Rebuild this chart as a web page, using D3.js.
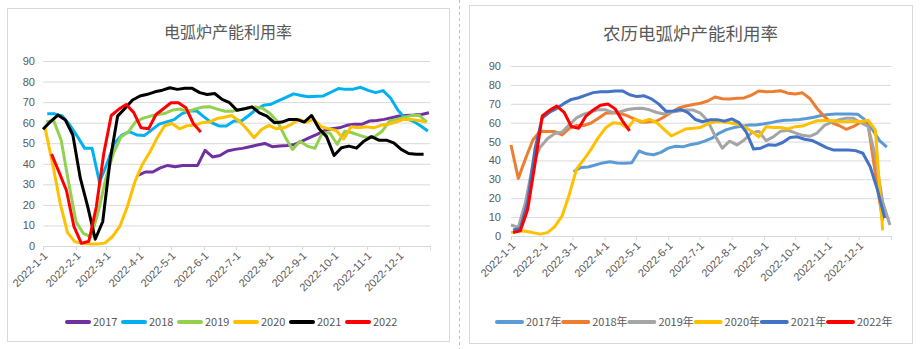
<!DOCTYPE html>
<html>
<head>
<meta charset="utf-8">
<script src="https://cdn.jsdelivr.net/npm/d3@7"></script>
<style>
  body { margin: 0; background: #fff; }
  svg { display: block; font-family: "Noto Sans CJK SC", "Noto Sans", sans-serif; }
</style>
</head>
<body>
<svg id="chart" width="921" height="349"></svg>
<script>
// month tick labels shared by both charts
const monthTicks = ["2022-1-1", "2022-2-1", "2022-3-1", "2022-4-1", "2022-5-1", "2022-6-1",
  "2022-7-1", "2022-8-1", "2022-9-1", "2022-10-1", "2022-11-1", "2022-12-1"];
const yTicks = [0, 10, 20, 30, 40, 50, 60, 70, 80, 90];

// calendar-aligned weekly utilisation, %
const arcYears = ["2017", "2018", "2019", "2020", "2021", "2022"];
const arcStartDay = [89, 4, 3, 2, 0, 8]; // day of year of the first weekly reading
const arc2017 = [34.4, 36, 36, 38, 39.2, 38.6, 39.2, 39.2, 39.2, 46.5, 43.3, 44, 46.2, 47, 47.5, 48.3, 49.1, 49.9, 48.3, 48.6,
  48.9, 49.4, 51, 52.7, 54.3, 56.2, 57, 57.5, 58.7, 59.2, 59.2, 60.8, 61.1, 61.6, 62.4, 63.2, 63.5, 63.7, 64, 64.8];
const arc2018 = [64.3, 64.3, 63.3, 59, 53.5, 47.6, 47.6, 31, 40, 50, 54, 55.6, 54, 53.7, 56.5, 59.3, 60.4, 61.5, 64.3, 65.7,
  65.8, 62.8, 60, 58.4, 58.4, 60.8, 60.8, 63.5, 66.5, 68.5, 69, 70.7, 72.3, 74, 73.2, 72.6, 72.9, 73, 74.8, 76.6,
  76.2, 76.3, 77.2, 75.7, 74.6, 75.6, 72, 66, 62, 60.8, 58.5, 55.9];
const arc2019 = [60.5, 61, 51.6, 31, 11.8, 6, 4.5, 17, 33, 45, 53, 55.5, 60.5, 62.2, 63.2, 63.9, 64.6, 66.2, 66.6, 65.3,
  66.7, 67.6, 67.7, 66.5, 65.5, 65.6, 66.4, 67, 67.6, 67, 64.5, 60.5, 53.2, 47, 51, 48.6, 47.5, 55, 55, 49.5,
  55.8, 55.1, 53.8, 52.7, 53.2, 55.8, 60.8, 61.6, 62.7, 63.5, 63.5, 60.3];
const arc2020 = [57.2, 40, 21, 6.5, 2, 1.3, 1, 1, 1.4, 4.5, 9.5, 19, 31, 39.5, 45.5, 52.5, 58.5, 59.6, 57, 58.5,
  58.7, 60, 60.3, 62, 62.6, 63.5, 60.8, 57, 52.7, 56.7, 58.7, 57, 57.5, 59.2, 61.6, 60.3, 61.6, 58, 57, 56.2,
  52.1, 58, 57.5, 58, 57.5, 58.7, 59.2, 60.3, 61.6, 61.6, 61.1, 60.3];
const arc2021 = [56.8, 60.5, 63.7, 61.3, 54, 33, 19, 3.3, 11.8, 41.8, 63.2, 67, 71, 73, 73.8, 75, 75.8, 77, 76.2, 76.7,
  76.7, 74.6, 73.7, 74.2, 71.3, 69.7, 66, 66.8, 67.7, 64.8, 63.2, 60, 60.3, 61.6, 61.6, 60.3, 63.5, 57, 53.2, 44,
  47.8, 48.6, 47.6, 51, 53.2, 51.5, 51.5, 50.2, 47, 45, 44.6, 44.6];
const arc2022 = [44.7, 36, 27, 9.5, 1.3, 2.3, 19, 45, 63.5, 66.5, 68.8, 65, 57.5, 57, 64, 66.8, 69.7, 69.7, 67.3, 59.6, 55.4];

// lunar-calendar-aligned weekly utilisation, %
const lunarYears = ["2017年", "2018年", "2019年", "2020年", "2021年", "2022年"];
const lunarStartDay = [60, 0, 0, 0, 2, 2];
const lunar2017 = [34, 36.3, 36.5, 37.6, 38.7, 39.3, 38.6, 38.5, 38.8, 45, 43.5, 43, 44.3, 46.5, 47.5, 47.2, 48.3, 49, 50.2, 51.8,
  54.5, 56.3, 57.4, 58.1, 58.7, 58.8, 59.3, 59.9, 60.8, 61.3, 61.4, 61.7, 62.2, 62.9, 63.8, 64.3, 64.6, 64.6, 64.6, 64.5,
  61.5, 56.5, 50.5, 47];
const lunar2018 = [48.2, 30.5, 41, 50.8, 55.5, 55.3, 55.3, 53.5, 57, 58.5, 58.5, 59.8, 62.3, 65, 65.3, 65, 63.6, 61.8, 60.2, 60.5,
  60.9, 63, 65.5, 67.8, 68.8, 69.6, 70.3, 71.5, 73.6, 72.7, 72.5, 72.9, 73.1, 74.6, 76.8, 76.4, 76.5, 76.9, 75.6, 75.2,
  75.8, 72.8, 67.5, 63.2, 60, 58.5, 56.5, 58, 60.2, 59, 33, 8];
const lunar2019 = [5.8, 4.6, 18, 38, 47, 51.5, 54.3, 55, 58.8, 62.5, 64.5, 65.7, 66.9, 66.8, 65.4, 65.8, 67, 67.5, 67.6, 66.8,
  65.4, 64.6, 65.6, 66.2, 66.7, 66.7, 65, 61, 53, 46.5, 50.2, 48.2, 50.8, 54.6, 55.5, 50.5, 52.5, 55.5, 56, 54.6,
  53.3, 52.8, 54.5, 58.5, 60.3, 61.5, 62.3, 62.3, 60, 58, 42, 18, 5.8];
const lunar2020 = [1.8, 2.7, 2.5, 1.8, 1, 1.8, 5, 10.5, 22, 35.5, 40.5, 46, 52.2, 57.3, 60, 59.5, 57, 62, 60.5, 61.8,
  60, 56.5, 53, 54.8, 56.7, 57, 57.5, 59.4, 60.5, 60.5, 60, 59.3, 57.8, 55.5, 52.5, 57.8, 57.5, 57.4, 56.7, 57.9,
  58.2, 59.6, 61, 61.1, 61.1, 60.6, 60.5, 60.8, 60.5, 61.3, 56, 3];
const lunar2021 = [3.2, 4, 18, 46, 62.5, 65.5, 67.6, 70.2, 72.3, 73.2, 74.6, 75.9, 76.4, 76.4, 76.8, 76.8, 74.8, 73.8, 74.2, 72.6,
  69.8, 66, 66.2, 67, 65.3, 61.7, 60.5, 61.5, 61.6, 60.8, 62, 60, 55, 46, 46.5, 48.3, 48, 49.5, 52.2, 52.5,
  51.2, 50.6, 48.8, 46.8, 45.5, 45.5, 45.5, 45.2, 43.8, 36.7, 24.4, 9.4];
const lunar2022 = [1.8, 2.8, 14, 38, 63.5, 66.5, 68.8, 65.5, 58, 57, 63.5, 66.7, 69.2, 69.9, 67.3, 61, 55.7];

const parseDay = d3.timeParse("%Y-%m-%d");
const yearStart = parseDay("2022-01-01");
const tickDates = monthTicks.map(parseDay);
const labelFmt = d3.timeFormat("%Y-%-m-%-d");

const svg = d3.select("#chart");
const textColor = "#595959";
const gridColor = "#d9d9d9";

// divider between the two panels
svg.append("line")
  .attr("x1", 459.5).attr("x2", 459.5).attr("y1", 0).attr("y2", 349)
  .attr("stroke", "#bfbfbf").attr("stroke-dasharray", "3,3");

function weekly(values, startDay) {
  return values.map((v, i) => ({date: d3.timeDay.offset(yearStart, startDay + 7 * i), v}));
}

function drawPanel(p) {
  const g = svg.append("g");

  g.append("rect")
    .attr("x", p.box[0] + 0.5).attr("y", p.box[1] + 0.5)
    .attr("width", p.box[2]).attr("height", p.box[3])
    .attr("fill", "#fff").attr("stroke", gridColor);

  g.append("text")
    .attr("x", p.box[0] + p.box[2] / 2).attr("y", p.titleY)
    .attr("text-anchor", "middle")
    .attr("fill", textColor)
    .style("font-size", p.titleSize + "px")
    .text(p.title);

  const x = d3.scaleTime().domain(p.domain).range(p.xRange);
  const y = d3.scaleLinear().domain([0, 90]).range(p.yRange);
  const plotW = p.xRange[1] - p.xRange[0];

  // horizontal gridlines
  const grid = g.append("g")
    .attr("transform", `translate(${p.xRange[0]},0)`)
    .call(d3.axisLeft(y).tickValues(yTicks.slice(1)).tickSize(-plotW).tickFormat(""));
  grid.select(".domain").remove();
  grid.selectAll("line").attr("stroke", gridColor);

  // y labels
  const yAxis = g.append("g")
    .attr("transform", `translate(${p.yLabelX},0)`)
    .call(d3.axisLeft(y).tickValues(yTicks).tickSize(0).tickPadding(0));
  yAxis.select(".domain").remove();
  yAxis.selectAll("text").attr("fill", textColor).style("font-size", "11px");

  // date axis with rotated month labels; the closing tick has no label
  const endDate = p.domain[1];
  const xAxis = g.append("g")
    .attr("transform", `translate(0,${p.yRange[0]})`)
    .call(d3.axisBottom(x).tickValues(tickDates.concat([endDate]))
      .tickSize(4).tickSizeOuter(0).tickFormat(d => +d === +endDate ? "" : labelFmt(d)));
  xAxis.select(".domain").attr("stroke", gridColor);
  xAxis.selectAll("line").attr("stroke", gridColor);
  xAxis.selectAll("text")
    .attr("fill", textColor)
    .style("font-size", "11px")
    .style("text-anchor", "end")
    .attr("x", -4).attr("y", 7).attr("dy", "0.35em")
    .attr("transform", "rotate(-45)");

  const line = d3.line().x(d => x(d.date)).y(d => y(d.v));

  p.series.forEach((s, i) => {
    g.append("path")
      .datum(weekly(s, p.startDays[i]))
      .attr("fill", "none")
      .attr("stroke", p.colors[i])
      .attr("stroke-width", 3)
      .attr("stroke-linejoin", "round")
      .attr("d", line);
  });

  // legend
  const leg = g.append("g").attr("transform", `translate(${p.legendX},${p.legendY})`);
  p.names.forEach((name, i) => {
    const item = leg.append("g").attr("transform", `translate(${i * p.legendStep},0)`);
    item.append("line")
      .attr("x1", 0).attr("x2", p.legendLine)
      .attr("stroke", p.colors[i]).attr("stroke-width", 4).attr("stroke-linecap", "round");
    item.append("text")
      .attr("x", p.legendLine + 4).attr("dy", "0.35em")
      .attr("fill", textColor).style("font-size", "11px")
      .text(name);
  });
}

drawPanel({
  box: [7, 8, 442, 333],
  title: "电弧炉产能利用率",
  titleSize: 16,
  titleY: 38,
  domain: [yearStart, parseDay("2022-12-30")],
  xRange: [43, 430],
  yRange: [246, 61],
  yLabelX: 35,
  series: [arc2017, arc2018, arc2019, arc2020, arc2021, arc2022],
  startDays: arcStartDay,
  names: arcYears,
  colors: ["#7030a0", "#00b0f0", "#92d050", "#ffc000", "#000000", "#ff0000"],
  legendX: 67, legendY: 322, legendStep: 56, legendLine: 22
});

drawPanel({
  box: [469, 5, 443, 338],
  title: "农历电弧炉产能利用率",
  titleSize: 17.5,
  titleY: 40,
  domain: [yearStart, parseDay("2023-01-01")],
  xRange: [511, 891],
  yRange: [236, 66],
  yLabelX: 501,
  series: [lunar2017, lunar2018, lunar2019, lunar2020, lunar2021, lunar2022],
  startDays: lunarStartDay,
  names: lunarYears,
  colors: ["#5b9bd5", "#ed7d31", "#a5a5a5", "#ffc000", "#4472c4", "#ff0000"],
  legendX: 497, legendY: 322, legendStep: 66.2, legendLine: 25
});
</script>
</body>
</html>
